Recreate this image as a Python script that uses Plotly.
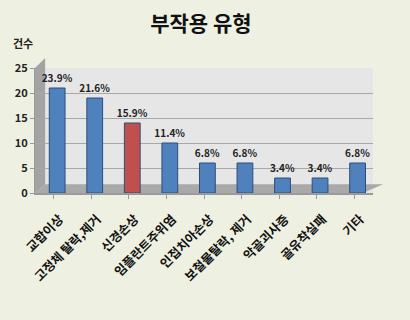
import plotly.graph_objects as go

categories = ["교합이상", "고정체 탈락,제거", "신경손상", "임플란트주위염", "인접치아손상",
              "보철물탈락, 제거", "악골괴사증", "골유착실패", "기타"]
counts = [21, 19, 14, 10, 6, 6, 3, 3, 6]
percent_labels = ["23.9%", "21.6%", "15.9%", "11.4%", "6.8%", "6.8%", "3.4%", "3.4%", "6.8%"]
bar_colors = ["#4f81bd", "#4f81bd", "#c0504d", "#4f81bd", "#4f81bd",
              "#4f81bd", "#4f81bd", "#4f81bd", "#4f81bd"]
y_ticks = [0, 5, 10, 15, 20, 25]

font = "Noto Sans CJK KR"

fig = go.Figure(go.Bar(
    x=categories, y=counts, text=[f"<b>{t}</b>" for t in percent_labels],
    textposition="outside", constraintext="none",
    marker=dict(color=bar_colors, line=dict(color="#2a4f7c", width=1)),
    textfont=dict(family=font, size=10, color="#222"),
    cliponaxis=False, width=0.42, offset=-0.12,
))

fig.update_layout(
    width=410, height=320,
    margin=dict(l=35, r=37, t=68, b=127),
    paper_bgcolor="#eef0e1",
    plot_bgcolor="#e6e6e6",
    showlegend=False,
    title=dict(text="<b>부작용 유형</b>", x=0.49, xanchor="center", y=0.925, yanchor="middle",
               font=dict(family=font, size=21, color="#111")),
)
fig.add_annotation(text="<b>건수</b>", xref="paper", yref="paper", x=-0.035, y=1.2,
                   xanchor="center", yanchor="middle", showarrow=False,
                   font=dict(family=font, size=11, color="#222"))

# 3D-like floor and left wall (decorative)
fig.add_shape(type="path", xref="paper", yref="paper", layer="below",
              path="M 0 0 L 0.97 0 L 1.03 0.07 L 0.03 0.07 Z",
              fillcolor="#a9a9a9", line=dict(width=0))
fig.add_shape(type="path", xref="paper", yref="paper", layer="below",
              path="M 0 0 L 0.03 0.07 L 0.03 1.08 L 0 1.0 Z",
              fillcolor="#a3a3a3", line=dict(width=0))

fig.update_yaxes(range=[0, 25], tickvals=y_ticks, ticktext=[f"<b>{v}</b>" for v in y_ticks],
                 showgrid=True, gridcolor="#a8a8a8",
                 gridwidth=1, zeroline=False, showline=True, linecolor="#9a9a9a",
                 ticks="outside", ticklen=4, tickcolor="#9a9a9a",
                 tickfont=dict(family=font, size=11, color="#222"))
fig.update_xaxes(tickvals=categories, ticktext=[f"<b>{c}</b>" for c in categories],
                 showline=True, linecolor="#9a9a9a", linewidth=2, ticks="outside",
                 ticklen=4, tickcolor="#9a9a9a", tickangle=-45,
                 ticklabelshift=6, ticklabelstandoff=8,
                 tickfont=dict(family=font, size=12.5, color="#111"))

fig.write_html("out.html")
